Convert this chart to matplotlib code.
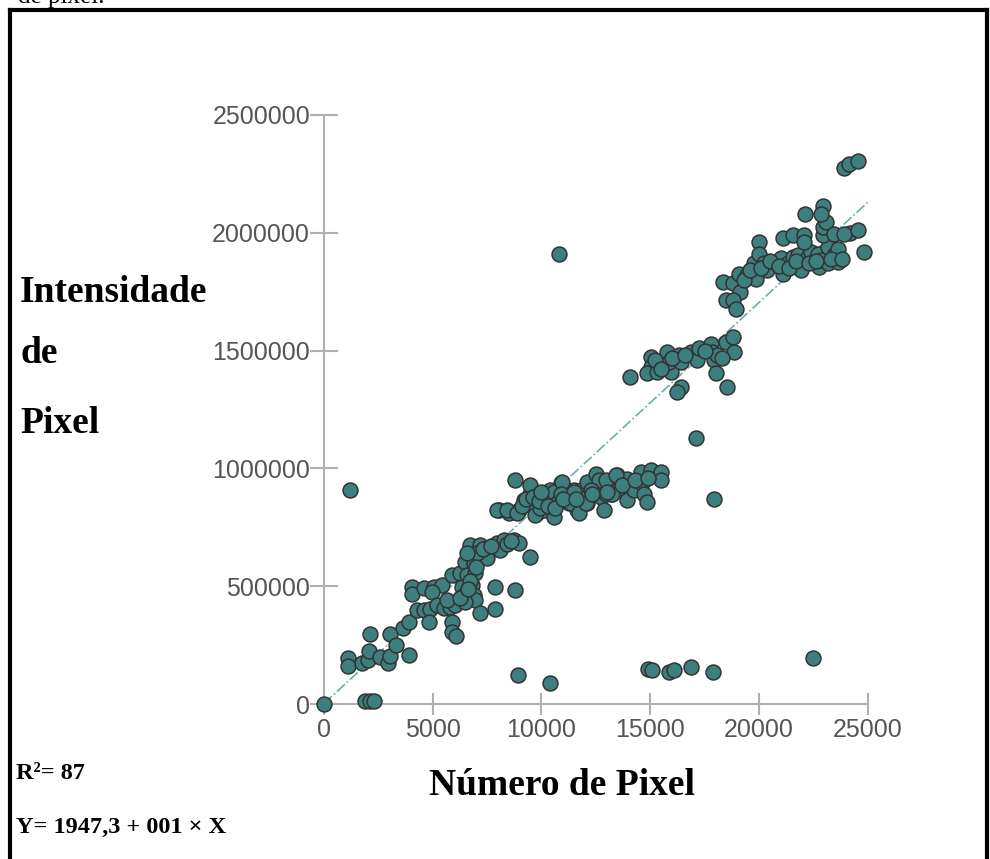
import matplotlib.pyplot as plt
from matplotlib.lines import Line2D

# pixel count (x) and summed pixel intensity (y) for each sample
PIXEL_COUNT = [
    0, 1900, 2100, 2300, 1090, 1120, 1200, 2120, 1740, 2040, 2090, 2580, 2920, 3040,
    3040, 3320, 3650, 3890, 3890, 4040, 4040, 4580, 5040, 5420, 4960,
    4270, 4580, 4880, 5190, 5500, 5810, 6040, 5650, 4850, 5880, 5880, 6080,
    5880, 6270, 6500, 6880, 6570, 6960, 6350, 6420, 6800, 6880, 6960, 6500, 6270,
    7190, 7880, 7880, 8800, 8910,
    6730, 7190, 7500, 7960, 8260, 8720, 8950, 8110, 7500, 7040, 6570, 9490,
    6700, 7000, 6600, 7300, 7700, 8400, 8600,
    8800, 8030, 8490, 8950, 9180, 9490, 9490, 9490, 9800, 10100, 10100, 10410,
    10570, 10880, 10950, 11180, 11260, 11490, 11650, 11800, 11950, 12100, 12100,
    12490, 12570, 12640, 12720, 12870, 12950, 13180, 13490, 13490, 13950, 13950,
    14260, 14640, 14720, 14870, 14560, 15020, 15480, 15480,
    7960, 8420, 8880, 9420, 9720, 9950, 10260, 10570, 10720, 10950, 10880,
    11340, 11490, 11720, 12030, 12260, 12950, 13240, 13410,
    9100, 9300, 9600, 9900, 10300, 10600, 10000, 11000, 11600, 12300, 13000,
    13700, 14300, 14900,
    14070, 15020, 15020, 14870, 15330, 15630, 15790, 15940, 15870, 16330, 16400,
    16870, 17170, 17240, 17790, 17860, 17940, 18090, 18480, 18790, 18860,
    15200, 15500, 16000, 16600, 17500, 18300,
    16400, 16250, 18020, 18520, 17100,
    18330, 18790, 19140, 18480, 18790, 18940, 19080, 19460, 19850, 19770, 20000,
    20000, 20240, 20390, 20700, 21010, 21090, 21320, 21550, 21780, 21930, 21930,
    22240, 22400, 22700, 22780, 22860, 23160, 23160, 23470, 23620, 23620,
    19300, 19600, 20100, 20500, 20900, 21400, 21700, 22300, 22600, 23300, 23800, 24200,
    21090, 21550, 22090, 22090, 22930, 22930, 23080, 23470, 23930, 24540, 24820,
    23930, 24160, 24540, 22930, 22860, 22120,
    10790, 10410, 14900, 15090, 15870, 16100, 16880, 17890, 17930, 22490,
]
INTENSITY = [
    0, 12000, 12000, 12000, 195000, 162000, 908000, 297000, 174000, 187000, 225000, 200000, 175000, 204000,
    297000, 250000, 321000, 349000, 208000, 498000, 467000, 491000, 498000, 505000, 477000,
    399000, 399000, 402000, 420000, 406000, 413000, 420000, 441000, 349000, 349000, 307000, 290000,
    547000, 555000, 604000, 596000, 547000, 555000, 498000, 462000, 505000, 462000, 441000, 434000, 448000,
    385000, 498000, 402000, 484000, 123000,
    675000, 675000, 661000, 682000, 696000, 696000, 682000, 653000, 618000, 639000, 639000, 625000,
    520000, 580000, 490000, 660000, 670000, 680000, 690000,
    950000, 823000, 809000, 823000, 866000, 852000, 893000, 929000, 809000, 823000, 893000, 908000,
    795000, 936000, 879000, 908000, 852000, 908000, 823000, 908000, 873000, 852000, 943000,
    978000, 908000, 950000, 879000, 823000, 950000, 893000, 908000, 971000, 957000, 866000,
    908000, 936000, 893000, 859000, 985000, 992000, 985000, 950000,
    823000, 823000, 809000, 852000, 802000, 830000, 866000, 901000, 852000, 943000, 893000,
    852000, 901000, 809000, 852000, 908000, 893000, 893000, 971000,
    840000, 870000, 880000, 860000, 840000, 830000, 900000, 870000, 870000, 890000, 900000,
    930000, 950000, 960000,
    1389000, 1474000, 1432000, 1403000, 1410000, 1445000, 1494000, 1410000, 1453000, 1481000, 1453000,
    1494000, 1460000, 1509000, 1530000, 1494000, 1460000, 1481000, 1537000, 1558000, 1494000,
    1460000, 1420000, 1470000, 1480000, 1500000, 1470000,
    1347000, 1326000, 1403000, 1344000, 1130000,
    1792000, 1785000, 1750000, 1713000, 1713000, 1678000, 1827000, 1820000, 1806000, 1870000, 1961000,
    1912000, 1870000, 1841000, 1877000, 1891000, 1827000, 1870000, 1898000, 1905000, 1870000, 1841000,
    1898000, 1919000, 1912000, 1856000, 1884000, 1870000, 1940000, 1905000, 1877000, 1933000,
    1800000, 1840000, 1850000, 1880000, 1860000, 1850000, 1880000, 1870000, 1880000, 1890000, 1890000, 2000000,
    1976000, 1990000, 1990000, 1961000, 1990000, 2025000, 2046000, 1997000, 1997000, 2011000, 1919000,
    2273000, 2294000, 2305000, 2113000, 2080000, 2080000,
    1910000, 89000, 148000, 144000, 136000, 144000, 157000, 136000, 870000, 195000,
]

# fitted trend line
TREND_INTERCEPT = 1947.3
TREND_SLOPE = 85.1
TREND_X = [0, 25000]

X_TICKS = [0, 5000, 10000, 15000, 20000, 25000]
Y_TICKS = [0, 500000, 1000000, 1500000, 2000000, 2500000]

W, H = 990, 859
fig = plt.figure(figsize=(W / 100, H / 100), dpi=100)

serif = "Liberation Serif"
sans = "Liberation Sans"

# page frame
for xs, ys in [([10, 10], [H + 5, 10]), ([10, 987], [10, 10]), ([987, 987], [10, H + 5])]:
    fig.add_artist(Line2D([x / W for x in xs], [1 - y / H for y in ys],
                          color="black", lw=3, transform=fig.transFigure,
                          solid_capstyle="projecting"))

# caption line from the text above, cut by the top edge
fig.text(18 / W, 1 - 3 / H, "de pixel.", family=serif, fontsize=18,
         va="baseline", ha="left", color="black")

ax = fig.add_axes([324 / W, 1 - 704 / H, (867.7 - 324) / W, (704 - 115) / H])

trend_y = [TREND_INTERCEPT + TREND_SLOPE * x for x in TREND_X]
ax.plot(TREND_X, trend_y, color="#6aaeaa", lw=1.2, ls="-.", zorder=1)

ax.scatter(PIXEL_COUNT, INTENSITY, s=115, color="#3c7f7c", edgecolors="#333333",
           linewidths=1.1, zorder=3, clip_on=False)

ax.set_xlim(0, 25000)
ax.set_ylim(0, 2500000)
ax.set_xticks(X_TICKS)
ax.set_yticks(Y_TICKS)
ax.set_xticklabels([str(t) for t in X_TICKS])
ax.set_yticklabels([str(t) for t in Y_TICKS])

for side in ["top", "right"]:
    ax.spines[side].set_visible(False)
for side in ["left", "bottom"]:
    ax.spines[side].set_color("#b0b0b0")
    ax.spines[side].set_linewidth(1.5)

ax.tick_params(axis="x", direction="inout", length=16, width=1.5, color="#b0b0b0",
               labelsize=18, labelcolor="#555555", pad=2)
ax.tick_params(axis="y", direction="inout", length=20, width=1.5, color="#b0b0b0",
               labelsize=18, labelcolor="#555555", pad=0)
for lbl in ax.get_xticklabels() + ax.get_yticklabels():
    lbl.set_family(sans)

# axis titles
fig.text(562 / W, 1 - 795 / H, "Número de Pixel", family=serif, fontweight="bold",
         fontsize=27, ha="center", va="baseline")
for word, base in [("Intensidade", 302), ("de", 363), ("Pixel", 433)]:
    fig.text(20 / W, 1 - base / H, word, family=serif, fontweight="bold",
             fontsize=27, ha="left", va="baseline")

# fit summary
fig.text(16 / W, 1 - 779 / H, "R²= 87", family=serif, fontweight="bold",
         fontsize=17.5, ha="left", va="baseline")
fig.text(16 / W, 1 - 833 / H, "Y= 1947,3 + 001 × X", family=serif, fontweight="bold",
         fontsize=17.5, ha="left", va="baseline")

fig.savefig("out.png", dpi=100)
